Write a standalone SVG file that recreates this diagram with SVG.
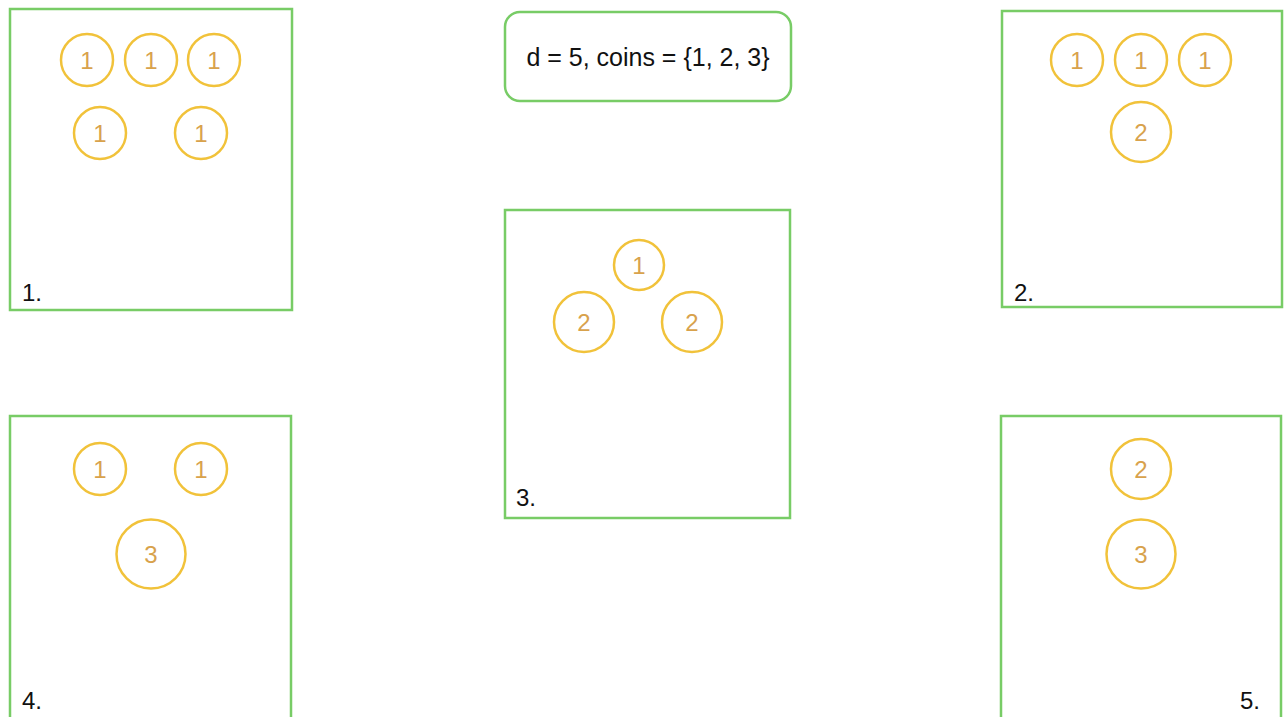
<svg xmlns="http://www.w3.org/2000/svg" width="1288" height="717" viewBox="0 0 1288 717">
<style>
.box{fill:#ffffff;stroke:#78CC66;stroke-width:2.5}
.coin{fill:none;stroke:#F1C23A;stroke-width:2.5}
.ct{font-family:"Liberation Sans",Arial,sans-serif;font-size:24px;fill:#D8A24C;text-anchor:middle}
.lbl{font-family:"Liberation Sans",Arial,sans-serif;font-size:24px;fill:#111111}
</style>
<rect width="1288" height="717" fill="#ffffff"/>
<g id="title">
<rect class="box" x="505" y="12" width="286" height="89" rx="15" ry="15"/>
<text class="lbl" x="648" y="66" text-anchor="middle" style="font-size:25px">d = 5, coins = {1, 2, 3}</text>
</g>
<g id="box1">
<rect class="box" x="10" y="9" width="282" height="301"/>
<circle class="coin" cx="87" cy="60" r="26"/><text class="ct" x="87" y="69">1</text>
<circle class="coin" cx="151" cy="60" r="26"/><text class="ct" x="151" y="69">1</text>
<circle class="coin" cx="214" cy="60" r="26"/><text class="ct" x="214" y="69">1</text>
<circle class="coin" cx="100" cy="133" r="26"/><text class="ct" x="100" y="142">1</text>
<circle class="coin" cx="201" cy="133" r="26"/><text class="ct" x="201" y="142">1</text>
<text class="lbl" x="22" y="301">1.</text>
</g>
<g id="box2">
<rect class="box" x="1002" y="11" width="280" height="296"/>
<circle class="coin" cx="1077" cy="60" r="26"/><text class="ct" x="1077" y="69">1</text>
<circle class="coin" cx="1141" cy="60" r="26"/><text class="ct" x="1141" y="69">1</text>
<circle class="coin" cx="1205" cy="60" r="26"/><text class="ct" x="1205" y="69">1</text>
<circle class="coin" cx="1141" cy="132" r="30"/><text class="ct" x="1141" y="141">2</text>
<text class="lbl" x="1014" y="301">2.</text>
</g>
<g id="box3">
<rect class="box" x="505" y="210" width="285" height="308"/>
<circle class="coin" cx="639" cy="265" r="25"/><text class="ct" x="639" y="274">1</text>
<circle class="coin" cx="584" cy="322" r="30"/><text class="ct" x="584" y="331">2</text>
<circle class="coin" cx="692" cy="322" r="30"/><text class="ct" x="692" y="331">2</text>
<text class="lbl" x="516" y="506">3.</text>
</g>
<g id="box4">
<rect class="box" x="10" y="416" width="281" height="320"/>
<circle class="coin" cx="100" cy="469" r="26"/><text class="ct" x="100" y="478">1</text>
<circle class="coin" cx="201" cy="469" r="26"/><text class="ct" x="201" y="478">1</text>
<circle class="coin" cx="151" cy="554" r="34.5"/><text class="ct" x="151" y="563">3</text>
<text class="lbl" x="22" y="709">4.</text>
</g>
<g id="box5">
<rect class="box" x="1001" y="416" width="280" height="320"/>
<circle class="coin" cx="1141" cy="469" r="30"/><text class="ct" x="1141" y="478">2</text>
<circle class="coin" cx="1141" cy="554" r="34.5"/><text class="ct" x="1141" y="563">3</text>
<text class="lbl" x="1240" y="709">5.</text>
</g>
<g id="connectors"></g>
</svg>
